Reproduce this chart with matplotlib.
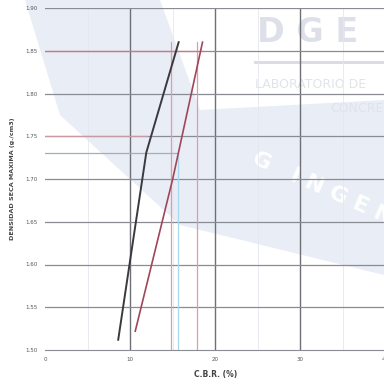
import numpy as np
import matplotlib.pyplot as plt
from matplotlib.patches import Polygon

# datos
cbr_ticks = [0, 10, 20, 30, 40]
dens_ticks = [1.50, 1.55, 1.60, 1.65, 1.70, 1.75, 1.80, 1.85, 1.90]

# curva negra
cbr_black = [8.6, 11.9, 15.7]
dens_black = [1.512, 1.731, 1.860]
# curva roja
cbr_red = [10.6, 15.0, 18.5]
dens_red = [1.522, 1.700, 1.860]

# lineas de lectura
v_red = [14.8, 17.8]
v_blue = [15.6]
h_red = 1.85
h_red2 = 1.75
h_teal = 1.73

fig = plt.figure(figsize=(3.84, 3.85), dpi=100)
fig.patch.set_facecolor('white')

ax = fig.add_axes([45/384, 1-350/385, 1-45/384+0.004, (350-8)/385])
ax.patch.set_alpha(0)

# marca de agua (fondo azul)
band = Polygon([(25/384, 1), (160/384, 1), (200/384, 1-110/385), (1, 1-100/385),
                (1, 1-275/385), (180/384, 1-225/385), (60/384, 1-115/385)],
               closed=True, transform=fig.transFigure, facecolor='#e8edf6',
               edgecolor='none', zorder=0.1, clip_on=False)
ax.add_patch(band)

ax.set_xlim(0, 40)
ax.set_ylim(1.50, 1.90)
ax.set_xticks(cbr_ticks)
ax.set_xticklabels([str(t) for t in cbr_ticks])
ax.set_yticks(dens_ticks)
ax.set_yticklabels(['%.2f' % t for t in dens_ticks])

for v in [10, 20, 30]:
    ax.axvline(v, color='#6f7075', lw=1.0, zorder=1)
for v in [5, 15, 25, 35]:
    ax.axvline(v, color='#e6e8ee', lw=0.6, zorder=1)
for h in dens_ticks[1:]:
    ax.axhline(h, color='#8a8c93', lw=0.9, zorder=1)

# texto de la marca de agua
ax.text(0.80, 1-32/385, 'D G E', fontsize=24, color='#dde0e8', ha='center', va='center',
        fontweight='bold', zorder=0.2, transform=fig.transFigure, clip_on=False)
ax.plot([255/384, 1], [1-62/385, 1-62/385], color='#d8dbe3', lw=2,
        transform=fig.transFigure, zorder=0.2, clip_on=False)
ax.text(0.81, 1-85/385, 'LABORATORIO DE', fontsize=9, color='#e2e3ea', ha='center',
        va='center', zorder=0.2, transform=fig.transFigure, clip_on=False)
ax.text(0.93, 1-108/385, 'CONCRE', fontsize=9, color='#e2e3ea', ha='center',
        va='center', zorder=0.2, transform=fig.transFigure, clip_on=False)
ax.text(0.84, 1-188/385, 'G   I N G E N', fontsize=16, color='white', ha='center',
        va='center', fontweight='bold', rotation=-24, zorder=0.2,
        transform=fig.transFigure, clip_on=False)

# lineas de lectura
for v in v_red:
    ax.plot([v, v], [1.50, 1.86], color='#e39aa5', lw=0.9, zorder=2)
for v in v_blue:
    ax.plot([v, v], [1.50, 1.73], color='#a9d7ee', lw=0.9, zorder=2)
ax.plot([0, 18.6], [h_red, h_red], color='#e46d80', lw=0.9, zorder=2)
ax.plot([0, 12.0], [h_red2, h_red2], color='#c99aa3', lw=0.9, zorder=2)
ax.plot([0, 15.5], [h_teal, h_teal], color='#9cb3bb', lw=0.9, zorder=2)

ax.plot(cbr_black, dens_black, color='#3a3a3e', lw=1.4, zorder=3)
ax.plot(cbr_red, dens_red, color='#a04658', lw=1.2, zorder=3)

for s in ['top', 'right', 'left']:
    ax.spines[s].set_visible(False)
ax.spines['bottom'].set_color('#8a8c93')
ax.tick_params(axis='both', length=0, labelsize=4, colors='#555555', pad=5)

ax.set_ylabel('DENSIDAD SECA MAXIMA (g./cm3)', fontsize=4.6, fontweight='bold',
              color='#444444', labelpad=8)
ax.set_xlabel('C.B.R. (%)', fontsize=5.5, fontweight='bold', color='#444444', labelpad=6)

fig.savefig('out.png', dpi=100)
